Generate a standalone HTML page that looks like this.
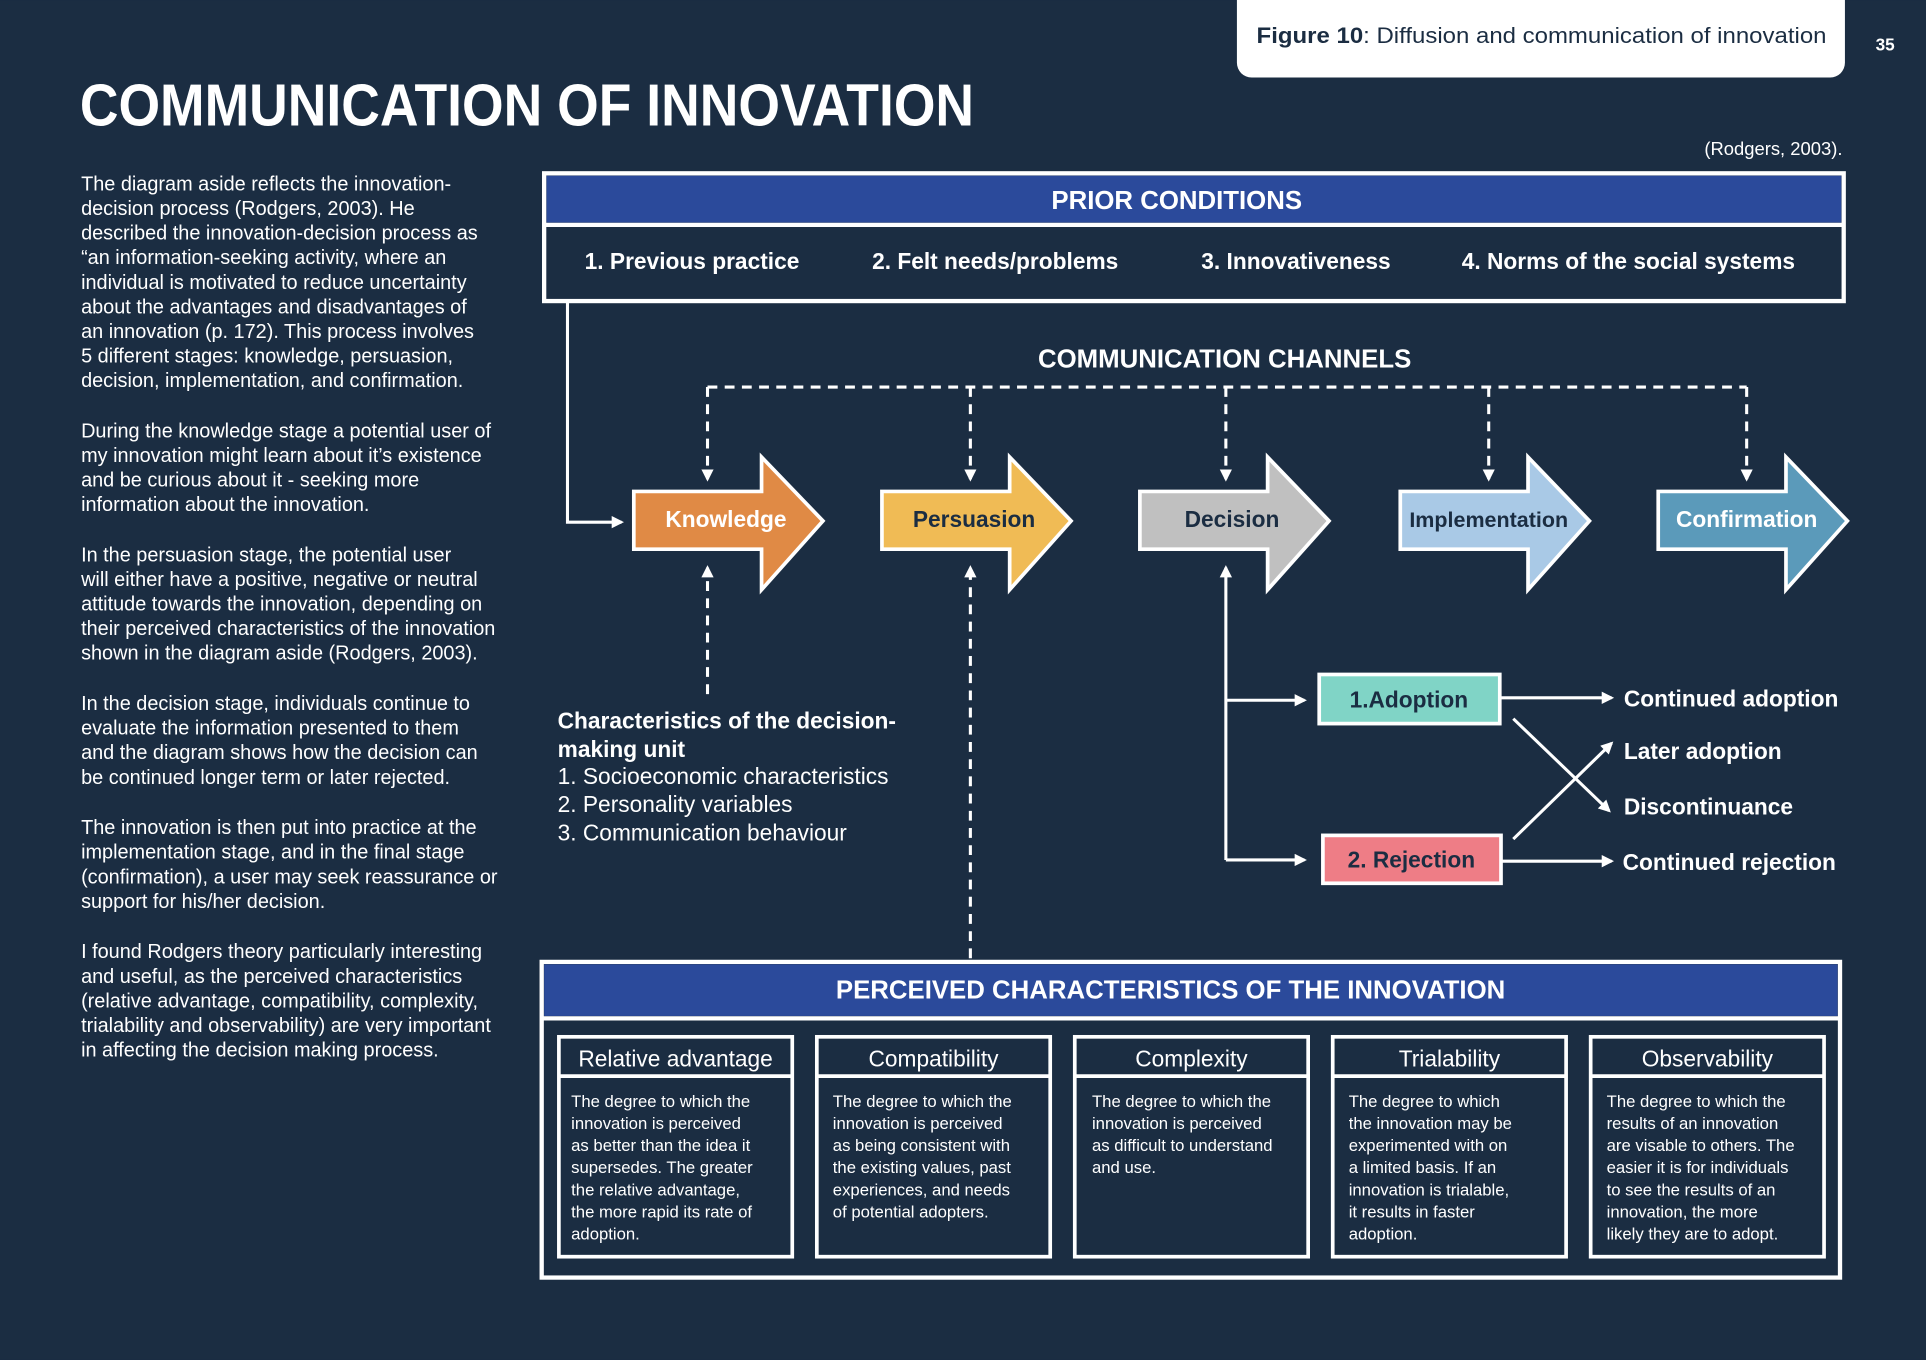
<!DOCTYPE html>
<html><head><meta charset="utf-8"><style>
html,body{margin:0;padding:0;background:#1b2d42;}
svg{display:block;}
text{font-family:"Liberation Sans",sans-serif;fill:#fff;}
.b{font-weight:bold;}
</style></head><body>
<svg width="1926" height="1360" viewBox="0 0 1568 1107" xmlns="http://www.w3.org/2000/svg">
<defs>
<marker id="ah" markerWidth="10" markerHeight="10" refX="8" refY="5" orient="auto" markerUnits="userSpaceOnUse"><path d="M0,0 L10,5 L0,10 z" fill="#fff"/></marker>
</defs>
<rect width="1568" height="1107" fill="#1b2d42"/>
<rect x="1007" y="-12" width="495" height="75" rx="12" fill="#fff"/>
<text x="1023" y="35" font-size="18" style="fill:#1b2d42" textLength="464" lengthAdjust="spacingAndGlyphs"><tspan class="b">Figure 10</tspan>: Diffusion and communication of innovation</text>
<text x="1527" y="41" font-size="14" class="b">35</text>
<text x="65" y="102" font-size="48" class="b" textLength="728" lengthAdjust="spacingAndGlyphs">COMMUNICATION OF INNOVATION</text>
<text x="1500" y="126" font-size="15" text-anchor="end">(Rodgers, 2003).</text>

<g font-size="16.2">
<text x="66" y="155">The diagram aside reflects the innovation-</text>
<text x="66" y="175">decision process (Rodgers, 2003). He</text>
<text x="66" y="195">described the innovation-decision process as</text>
<text x="66" y="215">“an information-seeking activity, where an</text>
<text x="66" y="235">individual is motivated to reduce uncertainty</text>
<text x="66" y="255">about the advantages and disadvantages of</text>
<text x="66" y="275">an innovation (p. 172). This process involves</text>
<text x="66" y="295">5 different stages: knowledge, persuasion,</text>
<text x="66" y="315">decision, implementation, and confirmation.</text>
<text x="66" y="356">During the knowledge stage a potential user of</text>
<text x="66" y="376">my innovation might learn about it’s existence</text>
<text x="66" y="396">and be curious about it - seeking more</text>
<text x="66" y="416">information about the innovation.</text>
<text x="66" y="457">In the persuasion stage, the potential user</text>
<text x="66" y="477">will either have a positive, negative or neutral</text>
<text x="66" y="497">attitude towards the innovation, depending on</text>
<text x="66" y="517">their perceived characteristics of the innovation</text>
<text x="66" y="537">shown in the diagram aside (Rodgers, 2003).</text>
<text x="66" y="578">In the decision stage, individuals continue to</text>
<text x="66" y="598">evaluate the information presented to them</text>
<text x="66" y="618">and the diagram shows how the decision can</text>
<text x="66" y="638">be continued longer term or later rejected.</text>
<text x="66" y="679">The innovation is then put into practice at the</text>
<text x="66" y="699">implementation stage, and in the final stage</text>
<text x="66" y="719">(confirmation), a user may seek reassurance or</text>
<text x="66" y="739">support for his/her decision.</text>
<text x="66" y="780">I found Rodgers theory particularly interesting</text>
<text x="66" y="800">and useful, as the perceived characteristics</text>
<text x="66" y="820">(relative advantage, compatibility, complexity,</text>
<text x="66" y="840">trialability and observability) are very important</text>
<text x="66" y="860">in affecting the decision making process.</text>
</g>

<rect x="443" y="141" width="1058" height="104" fill="none" stroke="#fff" stroke-width="3.5"/>
<rect x="445" y="143" width="1054" height="38" fill="#2b4a9b"/>
<line x1="443" y1="183" x2="1501" y2="183" stroke="#fff" stroke-width="3.5"/>
<text x="958" y="170" font-size="21" class="b" text-anchor="middle">PRIOR CONDITIONS</text>
<g font-size="18.5" class="b">
<text x="476" y="219">1. Previous practice</text>
<text x="710" y="219">2. Felt needs/problems</text>
<text x="978" y="219">3. Innovativeness</text>
<text x="1190" y="219">4. Norms of the social systems</text>
</g>
<polyline points="462,245 462,425 506,425" fill="none" stroke="#fff" stroke-width="2.5" marker-end="url(#ah)"/>

<text x="997" y="299" font-size="21" class="b" text-anchor="middle">COMMUNICATION CHANNELS</text>
<g stroke="#fff" stroke-width="2.5" stroke-dasharray="8,6" fill="none">
<line x1="576" y1="315" x2="1422" y2="315"/>
<line x1="576" y1="315" x2="576" y2="390" marker-end="url(#ah)"/>
<line x1="790" y1="315" x2="790" y2="390" marker-end="url(#ah)"/>
<line x1="998" y1="315" x2="998" y2="390" marker-end="url(#ah)"/>
<line x1="1212" y1="315" x2="1212" y2="390" marker-end="url(#ah)"/>
<line x1="1422" y1="315" x2="1422" y2="390" marker-end="url(#ah)"/>
<line x1="576" y1="565" x2="576" y2="462" marker-end="url(#ah)"/>
<line x1="790" y1="780" x2="790" y2="462" marker-end="url(#ah)"/>
</g>

<g stroke="#fff" stroke-width="3">
<path d="M516,400 H620 V372 L670,424 L620,480 V447 H516 Z" fill="#e08a45"/>
<path d="M718,400 H822 V372 L872,424 L822,480 V447 H718 Z" fill="#f0bb55"/>
<path d="M928,400 H1032 V372 L1082,424 L1032,480 V447 H928 Z" fill="#c0c0c0"/>
<path d="M1140,400 H1244 V372 L1294,424 L1244,480 V447 H1140 Z" fill="#a9c9e6"/>
<path d="M1350,400 H1454 V372 L1504,424 L1454,480 V447 H1350 Z" fill="#5b9aba"/>
</g>
<g font-size="18.5" class="b" text-anchor="middle">
<text x="591" y="429">Knowledge</text>
<text x="793" y="429" style="fill:#1b2d42">Persuasion</text>
<text x="1003" y="429" style="fill:#1b2d42">Decision</text>
<text x="1212" y="429" style="fill:#1b2d42" font-size="17.5">Implementation</text>
<text x="1422" y="429">Confirmation</text>
</g>

<g stroke="#fff" stroke-width="2.5" fill="none">
<line x1="998" y1="700" x2="998" y2="462" marker-end="url(#ah)"/>
<line x1="998" y1="570" x2="1062" y2="570" marker-end="url(#ah)"/>
<line x1="998" y1="700" x2="1062" y2="700" marker-end="url(#ah)"/>
<line x1="1222" y1="568" x2="1312" y2="568" marker-end="url(#ah)"/>
<line x1="1222" y1="701" x2="1312" y2="701" marker-end="url(#ah)"/>
<line x1="1232" y1="585" x2="1310" y2="660" marker-end="url(#ah)"/>
<line x1="1232" y1="683" x2="1312" y2="605" marker-end="url(#ah)"/>
</g>
<rect x="1074" y="549" width="147" height="40" fill="#80d4c6" stroke="#fff" stroke-width="3"/>
<rect x="1077" y="680" width="145" height="39" fill="#ee7d86" stroke="#fff" stroke-width="3"/>
<g font-size="18.5" class="b">
<text x="1147" y="576" text-anchor="middle" style="fill:#1b2d42">1.Adoption</text>
<text x="1149" y="706" text-anchor="middle" style="fill:#1b2d42">2. Rejection</text>
<text x="1322" y="575">Continued adoption</text>
<text x="1322" y="618">Later adoption</text>
<text x="1322" y="663">Discontinuance</text>
<text x="1321" y="708">Continued rejection</text>
<text x="454" y="593">Characteristics of the decision-</text>
<text x="454" y="616">making unit</text>
</g>
<g font-size="18.5">
<text x="454" y="638">1. Socioeconomic characteristics</text>
<text x="454" y="661">2. Personality variables</text>
<text x="454" y="684">3. Communication behaviour</text>
</g>

<rect x="441" y="783" width="1057" height="257" fill="none" stroke="#fff" stroke-width="3.5"/>
<rect x="443" y="785" width="1053" height="42" fill="#2b4a9b"/>
<line x1="441" y1="829" x2="1498" y2="829" stroke="#fff" stroke-width="3.5"/>
<text x="953" y="813" font-size="21" class="b" text-anchor="middle">PERCEIVED CHARACTERISTICS OF THE INNOVATION</text>
<g stroke="#fff" stroke-width="3" fill="none">
<rect x="455" y="844" width="190" height="179"/><line x1="455" y1="876" x2="645" y2="876"/>
<rect x="665" y="844" width="190" height="179"/><line x1="665" y1="876" x2="855" y2="876"/>
<rect x="875" y="844" width="190" height="179"/><line x1="875" y1="876" x2="1065" y2="876"/>
<rect x="1085" y="844" width="190" height="179"/><line x1="1085" y1="876" x2="1275" y2="876"/>
<rect x="1295" y="844" width="190" height="179"/><line x1="1295" y1="876" x2="1485" y2="876"/>
</g>
<g font-size="18.5" text-anchor="middle">
<text x="550" y="868">Relative advantage</text>
<text x="760" y="868">Compatibility</text>
<text x="970" y="868">Complexity</text>
<text x="1180" y="868">Trialability</text>
<text x="1390" y="868">Observability</text>
</g>
<g font-size="13.6">
<text x="465" y="901">The degree to which the</text>
<text x="465" y="919">innovation is perceived</text>
<text x="465" y="937">as better than the idea it</text>
<text x="465" y="955">supersedes. The greater</text>
<text x="465" y="973">the relative advantage,</text>
<text x="465" y="991">the more rapid its rate of</text>
<text x="465" y="1009">adoption.</text>
<text x="678" y="901">The degree to which the</text>
<text x="678" y="919">innovation is perceived</text>
<text x="678" y="937">as being consistent with</text>
<text x="678" y="955">the existing values, past</text>
<text x="678" y="973">experiences, and needs</text>
<text x="678" y="991">of potential adopters.</text>
<text x="889" y="901">The degree to which the</text>
<text x="889" y="919">innovation is perceived</text>
<text x="889" y="937">as difficult to understand</text>
<text x="889" y="955">and use.</text>
<text x="1098" y="901">The degree to which</text>
<text x="1098" y="919">the innovation may be</text>
<text x="1098" y="937">experimented with on</text>
<text x="1098" y="955">a limited basis. If an</text>
<text x="1098" y="973">innovation is trialable,</text>
<text x="1098" y="991">it results in faster</text>
<text x="1098" y="1009">adoption.</text>
<text x="1308" y="901">The degree to which the</text>
<text x="1308" y="919">results of an innovation</text>
<text x="1308" y="937">are visable to others. The</text>
<text x="1308" y="955">easier it is for individuals</text>
<text x="1308" y="973">to see the results of an</text>
<text x="1308" y="991">innovation, the more</text>
<text x="1308" y="1009">likely they are to adopt.</text>
</g>
</svg>
</body></html>
